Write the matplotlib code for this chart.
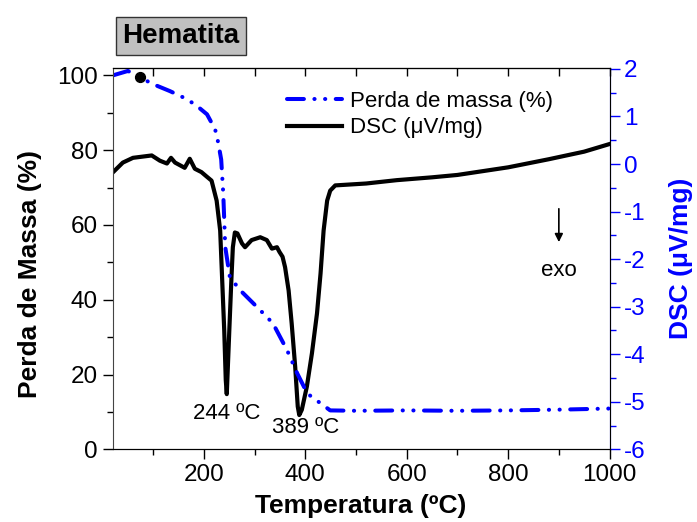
import matplotlib
matplotlib.use("Agg")
import matplotlib.pyplot as plt
from matplotlib.ticker import MultipleLocator

plt.rcParams['font.family'] = ['Liberation Sans', 'DejaVu Sans']
plt.rcParams['axes.unicode_minus'] = False

# mass loss curve (%), left axis
mass_temp = [20, 50, 99, 133, 158, 182, 206, 222, 228, 234, 238, 242, 251, 271,
             311, 336, 364, 384, 404, 449, 500, 600, 700, 800, 900, 1000]
mass_val = [100.0, 101.2, 97.7, 95.8, 94.2, 92.3, 89.6, 85.6, 82.1, 77.5, 68.6,
            54.1, 46.1, 42.6, 37.2, 33.7, 26.5, 20.3, 14.9, 10.4, 10.3, 10.4,
            10.3, 10.4, 10.6, 10.9]

# DSC curve (uV/mg), right axis
dsc_temp = [20, 40, 60, 97, 113, 127, 135, 143, 162, 172, 182, 195, 206, 215,
            225, 232, 236, 240, 243, 245, 250, 254, 257, 261, 266, 275, 281,
            294, 311, 324, 334, 344, 349, 355, 360, 367, 373, 380, 385, 388,
            393, 403, 413, 423, 430, 436, 443, 449, 459, 520, 580, 650, 700,
            750, 800, 880, 950, 1000]
dsc_val = [-0.18, 0.03, 0.13, 0.18, 0.07, 0.01, 0.13, 0.03, -0.08, 0.11, -0.10,
           -0.17, -0.27, -0.35, -0.77, -1.4, -2.45, -3.5, -4.54, -4.84, -3.5,
           -2.45, -1.75, -1.44, -1.46, -1.67, -1.75, -1.6, -1.54, -1.6, -1.78,
           -1.75, -1.85, -1.95, -2.17, -2.66, -3.35, -4.27, -5.1, -5.28, -5.17,
           -4.68, -3.98, -3.14, -2.3, -1.4, -0.77, -0.56, -0.45, -0.41, -0.34,
           -0.28, -0.23, -0.15, -0.07, 0.10, 0.26, 0.42]

peak_labels = ["244 ºC", "389 ºC"]
peak_pos = [(245, -5.24), (400, -5.55)]

fig = plt.figure(figsize=(6.97, 5.22), dpi=100)
ax = fig.add_axes([0.1617, 0.1393, 0.7128, 0.7305])
ax2 = ax.twinx()
ax.set_zorder(ax2.get_zorder() + 1)
ax.patch.set_visible(False)

mass_line, = ax.plot(mass_temp, mass_val, color='#0000FF', lw=2.9,
                     dash_capstyle='round', label='Perda de massa (%)')
mass_line.set_dashes([4.2, 2.6, 0.05, 2.6, 0.05, 2.6])
ax.scatter([73], [99.5], s=50, color='black', zorder=5)

dsc_line, = ax2.plot(dsc_temp, dsc_val, color='black', lw=3.0,
                     solid_joinstyle='round', label='DSC (μV/mg)')

for txt, (tx, ty) in zip(peak_labels, peak_pos):
    ax2.text(tx, ty, txt, ha='center', va='center', fontsize=16)

ax.set_xlim(20, 1000)
ax.set_ylim(0, 102)
ax2.set_ylim(-6, 2.02)

ax.xaxis.set_major_locator(MultipleLocator(200))
ax.xaxis.set_minor_locator(MultipleLocator(100))
ax.yaxis.set_major_locator(MultipleLocator(20))
ax.yaxis.set_minor_locator(MultipleLocator(10))
ax2.yaxis.set_major_locator(MultipleLocator(1))
ax2.yaxis.set_minor_locator(MultipleLocator(0.5))

ax.tick_params(axis='both', which='major', direction='out', length=7,
               labelsize=17.5, width=1)
ax.tick_params(axis='both', which='minor', direction='out', length=4.5, width=1)
ax2.tick_params(axis='y', which='major', direction='out', length=7,
                labelsize=17.5, colors='#0000FF', width=1)
ax2.tick_params(axis='y', which='minor', direction='out', length=4.5,
                colors='#0000FF', width=1)
ax2.spines['right'].set_color('#0000FF')
ax.spines['left'].set_color('#444444')
ax2.spines['left'].set_visible(False)

top = ax.secondary_xaxis('top')
top.set_xticks(range(100, 1001, 100))
top.tick_params(direction='in', length=6, labeltop=False, width=1)

ax.set_xlabel('Temperatura (ºC)', fontsize=19, fontweight='bold', labelpad=6)
ax.set_ylabel('Perda de Massa (%)', fontsize=19, fontweight='bold')
ax.yaxis.set_label_coords(-0.142, 0.46)
ax2.set_ylabel('DSC (μV/mg)', fontsize=19, fontweight='bold', color='#0000FF',
               labelpad=17)

ax.legend(handles=[mass_line, dsc_line], loc='upper left',
          bbox_to_anchor=(0.35, 0.94), frameon=False, fontsize=16,
          handlelength=2.5, handletextpad=0.35, labelspacing=0.25,
          borderpad=0, borderaxespad=0)

ax.annotate('', xy=(0.898, 0.536), xytext=(0.898, 0.638),
            xycoords='axes fraction',
            arrowprops=dict(arrowstyle='-|>', color='black', lw=1.2,
                            mutation_scale=12))
ax.text(0.898, 0.47, 'exo', transform=ax.transAxes, ha='center', va='center',
        fontsize=16)

fig.text(0.2597, 0.931, 'Hematita', ha='center', va='center', fontsize=20,
         fontweight='bold',
         bbox=dict(boxstyle='square,pad=0.22', facecolor='#C0C0C0',
                   edgecolor='#333333', lw=1))

fig.savefig('out.png', dpi=100)
plt.close(fig)
